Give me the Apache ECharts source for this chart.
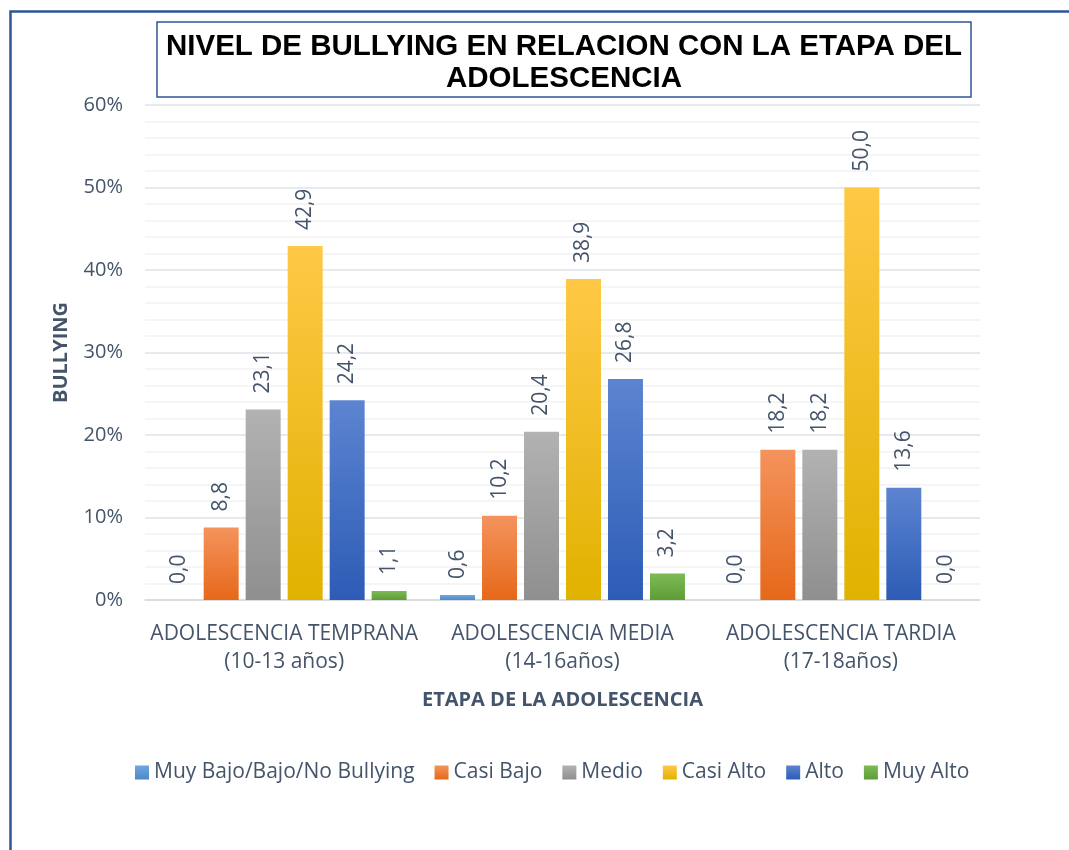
<!DOCTYPE html>
<html><head><meta charset="utf-8">
<script src="https://cdn.jsdelivr.net/npm/echarts@6/dist/echarts.min.js"></script>
<style>html,body{margin:0;padding:0;background:#fff}#c{width:1069px;height:850px}</style>
</head><body><div id="c"></div>
<script>
const categories = ['ADOLESCENCIA TEMPRANA\n(10-13 años)', 'ADOLESCENCIA MEDIA\n(14-16años)', 'ADOLESCENCIA TARDIA\n(17-18años)'];
const seriesNames = ['Muy Bajo/Bajo/No Bullying', 'Casi Bajo', 'Medio', 'Casi Alto', 'Alto', 'Muy Alto'];
const muyBajo = [0.0, 0.6, 0.0];
const casiBajo = [8.8, 10.2, 18.2];
const medio = [23.1, 20.4, 18.2];
const casiAlto = [42.9, 38.9, 50.0];
const alto = [24.2, 26.8, 13.6];
const muyAlto = [1.1, 3.2, 0.0];
const seriesData = [muyBajo, casiBajo, medio, casiAlto, alto, muyAlto];
const yTicks = [0, 10, 20, 30, 40, 50, 60];

const gradients = [
  ['#6FA8DC', '#4A88C8'],
  ['#F4935C', '#E6681A'],
  ['#B2B2B2', '#8F8F8F'],
  ['#FFC846', '#E0B200'],
  ['#5C84D0', '#2D5CB6'],
  ['#7DBA57', '#5E9D35']
];
const txt = '#44546A';
const font = 'Open Sans';

const chart = echarts.init(document.getElementById('c'));
chart.setOption({
  animation: false,
  textStyle: { fontFamily: font },
  title: {
    text: 'NIVEL DE BULLYING EN RELACION CON LA ETAPA DEL\nADOLESCENCIA',
    left: 555, top: 22, textAlign: 'center',
    textStyle: { fontFamily: 'Liberation Sans', fontWeight: 'bold', fontSize: 29.5, color: '#000', lineHeight: 32 },
    borderColor: '#2F5597', borderWidth: 1.5,
    padding: [9, 9, 2, 9]
  },
  graphic: [{
    type: 'rect', left: 8, top: 9, silent: true,
    shape: { x: 0, y: 0, width: 1200, height: 1000 },
    style: { fill: 'none', stroke: '#2F5597', lineWidth: 2.5 }
  }],
  legend: {
    bottom: 62, left: 130,
    itemWidth: 14, itemHeight: 14, itemGap: 20,
    icon: 'rect',
    textStyle: { fontSize: 21, color: txt, fontFamily: font },
    data: seriesNames
  },
  grid: { left: 145, right: 89, top: 105, bottom: 250, containLabel: false },
  xAxis: {
    type: 'category', data: categories,
    axisTick: { show: false },
    axisLine: { lineStyle: { color: '#D9D9D9', width: 1.5 } },
    axisLabel: { color: txt, fontSize: 21, lineHeight: 28, margin: 20, interval: 0 },
    name: 'ETAPA DE LA ADOLESCENCIA', nameLocation: 'middle', nameGap: 90,
    nameTextStyle: { fontWeight: 'bold', fontSize: 20, color: txt }
  },
  yAxis: {
    type: 'value', min: 0, max: 60, interval: 10,
    axisLabel: { formatter: v => v + '%', color: txt, fontSize: 20, margin: 22 },
    axisLine: { show: false }, axisTick: { show: false },
    splitLine: { lineStyle: { color: '#DEE2E7', width: 1.5 } },
    minorTick: { show: false, splitNumber: 5 },
    minorSplitLine: { show: true, lineStyle: { color: '#F2F2F2', width: 1.5 } },
    name: 'BULLYING', nameLocation: 'middle', nameGap: 74,
    nameTextStyle: { fontWeight: 'bold', fontSize: 20, color: txt }
  },
  series: seriesNames.map((n, i) => ({
    name: n, type: 'bar', data: seriesData[i],
    barGap: '20%', barCategoryGap: '12%',
    itemStyle: {
      color: new echarts.graphic.LinearGradient(0, 0, 0, 1, [
        { offset: 0, color: gradients[i][0] }, { offset: 1, color: gradients[i][1] }
      ])
    },
    label: {
      show: true, position: 'top', rotate: 90, align: 'left', verticalAlign: 'middle',
      distance: 16, fontSize: 21, color: txt,
      formatter: p => p.value.toFixed(1).replace('.', ',')
    }
  }))
});
</script></body></html>
